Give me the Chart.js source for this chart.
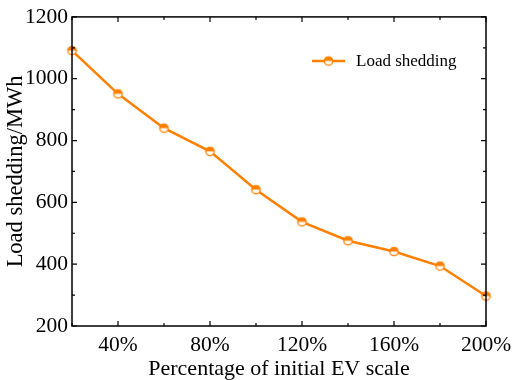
<!DOCTYPE html>
<html>
<head>
<meta charset="utf-8">
<script src="https://cdn.jsdelivr.net/npm/chart.js@4.4.0/dist/chart.umd.min.js"></script>
<style>
html,body{margin:0;padding:0;background:#fff;}
#wrap{width:512px;height:380px;}
</style>
</head>
<body>
<div id="wrap"><canvas id="c" width="512" height="380"></canvas></div>
<script>
const categories = ['20%','40%','60%','80%','100%','120%','140%','160%','180%','200%'];
const loadShedding = [1091, 951, 840, 765, 641, 537, 476, 441, 394, 297];
const yMin = 200, yMax = 1200, yStep = 100, yLabelStep = 200;
const seriesName = 'Load shedding';
const xTitle = 'Percentage of initial EV scale';
const yTitle = 'Load shedding/MWh';

const ORANGE = '#FF8000';
const FONT = '"Liberation Serif", "Times New Roman", serif';

function makeMarker(r){
  const c = document.createElement('canvas');
  const s = Math.ceil(r*2+4);
  c.width = s; c.height = s;
  const g = c.getContext('2d');
  const cx = s/2, cy = s/2;
  g.beginPath(); g.arc(cx,cy,r,0,Math.PI*2); g.fillStyle='#fff'; g.fill();
  g.beginPath(); g.arc(cx,cy,r,Math.PI,0); g.closePath(); g.fillStyle=ORANGE; g.fill();
  g.beginPath(); g.arc(cx,cy,r,0,Math.PI*2); g.lineWidth=1.3; g.strokeStyle=ORANGE; g.stroke();
  return c;
}
const marker = makeMarker(4.2);

const framePlugin = {
  id:'frame',
  afterDatasetsDraw(chart){
    const {ctx, chartArea:a, scales} = chart;
    ctx.save();
    ctx.strokeStyle='#000'; ctx.lineWidth=1.5;
    ctx.strokeRect(a.left, a.top, a.right-a.left, a.bottom-a.top);
    ctx.lineWidth=1.2;
    const xs = scales.x, ys = scales.y;
    xs.ticks.forEach((t,i)=>{
      const x = xs.getPixelForTick(i);
      const len = (i%2===1)?5:3;
      ctx.beginPath();
      ctx.moveTo(x,a.bottom); ctx.lineTo(x,a.bottom-len);
      ctx.moveTo(x,a.top); ctx.lineTo(x,a.top+len);
      ctx.stroke();
    });
    ys.ticks.forEach((t,i)=>{
      const y = ys.getPixelForValue(t.value);
      const len = (t.value % yLabelStep===0)?5:3;
      ctx.beginPath();
      ctx.moveTo(a.left,y); ctx.lineTo(a.left+len,y);
      ctx.moveTo(a.right,y); ctx.lineTo(a.right-len,y);
      ctx.stroke();
    });
    // legend
    const lx = 312, ly = 61;
    ctx.strokeStyle=ORANGE; ctx.lineWidth=2.5;
    ctx.beginPath(); ctx.moveTo(lx,ly); ctx.lineTo(lx+33,ly); ctx.stroke();
    ctx.drawImage(marker, lx+16.5-marker.width/2, ly-marker.height/2);
    ctx.fillStyle='#000'; ctx.font='17px '+FONT; ctx.textBaseline='middle'; ctx.textAlign='left';
    ctx.fillText(chart.data.datasets[0].label, lx+44, ly+1);
    ctx.restore();
  }
};

new Chart(document.getElementById('c'), {
  type:'line',
  data:{
    labels:categories,
    datasets:[{
      label:seriesName,
      data:loadShedding,
      borderColor:ORANGE,
      borderWidth:2.5,
      pointStyle:marker,
      pointRadius:5,
      tension:0,
      fill:false
    }]
  },
  options:{
    responsive:false,
    animation:false,
    devicePixelRatio:1,
    layout:{padding:{top:15,right:26,left:0,bottom:0}},
    plugins:{legend:{display:false},tooltip:{enabled:false}},
    scales:{
      x:{
        type:'category',
        offset:false,
        grid:{display:false,drawTicks:true,tickLength:6},
        border:{display:false},
        ticks:{
          autoSkip:false,maxRotation:0,padding:0,color:'#000',
          font:{family:FONT,size:21.5},
          callback:function(v,i){return i%2===1?categories[i]:'';}
        },
        title:{display:true,text:xTitle,color:'#000',font:{family:FONT,size:22,lineHeight:1},padding:{top:0,bottom:0}},
        afterFit(s){s.height=54;}
      },
      y:{
        min:yMin,max:yMax,
        grid:{display:false,drawTicks:false},
        border:{display:false},
        ticks:{
          stepSize:yStep,autoSkip:false,padding:4,color:'#000',
          font:{family:FONT,size:21.5},
          callback:function(v){return v%yLabelStep===0?String(v):'';}
        },
        title:{display:true,text:yTitle,color:'#000',font:{family:FONT,size:22.5,lineHeight:1},padding:{top:5,bottom:0}},
        afterFit(s){s.width=72;}
      }
    }
  },
  plugins:[framePlugin]
});
</script>
</body>
</html>
